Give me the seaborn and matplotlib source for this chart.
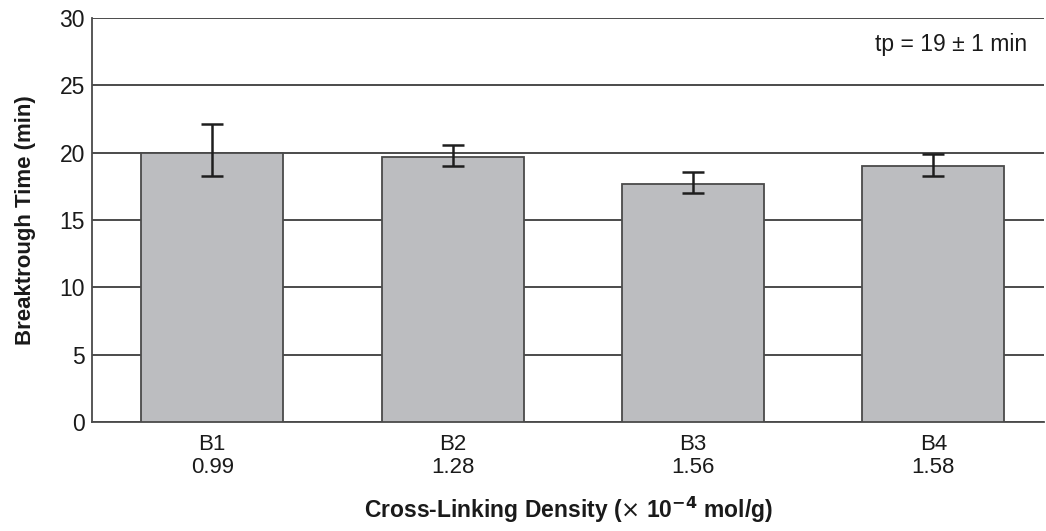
import matplotlib
matplotlib.use('Agg')
import matplotlib.pyplot as plt
import seaborn as sns
import numpy as np
import pandas as pd

# chart data
samples   = ['B1', 'B2', 'B3', 'B4']
densities = ['0.99', '1.28', '1.56', '1.58']
times     = [20.0, 19.7, 17.7, 19.0]
err_low   = [1.7, 0.7, 0.7, 0.7]
err_high  = [2.1, 0.9, 0.9, 0.9]
y_ticks   = [0, 5, 10, 15, 20, 25, 30]

sns.set_theme(style='white')
plt.rcParams['font.family'] = ['Liberation Sans', 'DejaVu Sans']

df = pd.DataFrame({
    'label': [f'{s}\n{d}' for s, d in zip(samples, densities)],
    'time' : times,
})

fig = plt.figure(figsize=(10.46, 5.31), dpi=100)
ax  = fig.add_axes([92 / 1046, 1 - 422 / 531, 952 / 1046, 404 / 531])

sns.barplot(data=df, x='label', y='time', color='#bcbdc0', saturation=1,
            width=0.59, edgecolor='#4a4a4a', linewidth=1.3, errorbar=None,
            ax=ax, zorder=3)
ax.errorbar(np.arange(len(times)), times, yerr=[err_low, err_high],
            fmt='none', ecolor='#1e1e1e', elinewidth=1.8, capsize=8,
            capthick=1.8, zorder=4)

ax.set_ylim(0, 30)
ax.set_xlim(-0.5, 3.46)
ax.set_yticks(y_ticks)
ax.yaxis.grid(True, color='#1a1a1a', linewidth=1.1, zorder=0)
ax.set_axisbelow(True)
for side in ['top', 'right']:
    ax.spines[side].set_visible(False)
for side in ['left', 'bottom']:
    ax.spines[side].set_color('#4a4a4a')
    ax.spines[side].set_linewidth(1.3)

ax.tick_params(axis='y', labelsize=16.5, colors='#1a1a1a', length=0, pad=5)
ax.tick_params(axis='x', labelsize=16, colors='#1a1a1a', length=0, pad=9)
for lbl in ax.get_xticklabels():
    lbl.set_linespacing(1.1)
ax.set_xlabel(r'Cross-Linking Density ($\times$ 10$^{\mathbf{-4}}$ mol/g)',
              fontsize=16.5, fontweight='bold', labelpad=12, color='#1a1a1a')
ax.set_ylabel('Breaktrough Time (min)', fontsize=16, fontweight='bold',
              labelpad=17, color='#1a1a1a')

ax.text(0.982, 0.935, 'tp = 19 ± 1 min', transform=ax.transAxes,
        ha='right', va='center', fontsize=16.5, color='#1a1a1a')

fig.savefig('out.png', dpi=100)
